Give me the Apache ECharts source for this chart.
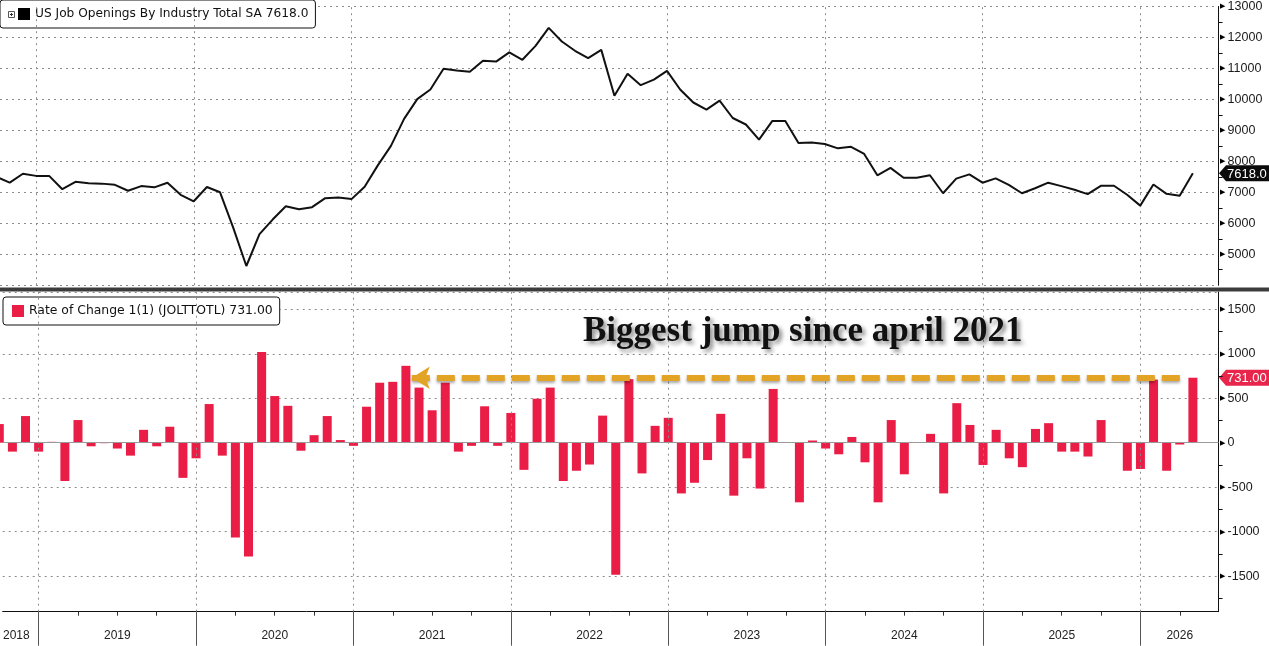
<!DOCTYPE html>
<html>
<head>
<meta charset="utf-8">
<script src="https://cdn.jsdelivr.net/npm/echarts@6/dist/echarts.min.js"></script>
<style>
  html, body { margin: 0; padding: 0; background: #fff; }
  #chart { width: 1269px; height: 646px; }
</style>
</head>
<body>
<div id="chart"></div>
<script>
// monthly points, plotted at the end of each month
var months = [
  '2018-09','2018-10','2018-11','2018-12',
  '2019-01','2019-02','2019-03','2019-04','2019-05','2019-06','2019-07','2019-08','2019-09','2019-10','2019-11','2019-12',
  '2020-01','2020-02','2020-03','2020-04','2020-05','2020-06','2020-07','2020-08','2020-09','2020-10','2020-11','2020-12',
  '2021-01','2021-02','2021-03','2021-04','2021-05','2021-06','2021-07','2021-08','2021-09','2021-10','2021-11','2021-12',
  '2022-01','2022-02','2022-03','2022-04','2022-05','2022-06','2022-07','2022-08','2022-09','2022-10','2022-11','2022-12',
  '2023-01','2023-02','2023-03','2023-04','2023-05','2023-06','2023-07','2023-08','2023-09','2023-10','2023-11','2023-12',
  '2024-01','2024-02','2024-03','2024-04','2024-05','2024-06','2024-07','2024-08','2024-09','2024-10','2024-11','2024-12',
  '2025-01','2025-02','2025-03','2025-04','2025-05','2025-06','2025-07','2025-08','2025-09','2025-10','2025-11','2025-12',
  '2026-01','2026-02','2026-03','2026-04'
];

// US job openings, thousands
var openings = [
  7500, 7310, 7600, 7530,
  7530, 7100, 7340, 7290, 7280, 7240, 7050, 7200, 7160, 7310, 6920, 6710,
  7170, 7000, 5860, 4620, 5650, 6120, 6550, 6450, 6520, 6810, 6830, 6780,
  7180, 7870, 8500, 9370, 10010, 10320, 10990, 10930, 10890, 11250, 11220, 11520,
  11280, 11730, 12310, 11870, 11570, 11330, 11600, 10120, 10830, 10460, 10640, 10920,
  10320, 9900, 9670, 9960, 9400, 9190, 8700, 9300, 9300, 8590, 8610, 8560,
  8420, 8470, 8240, 7550, 7790, 7470, 7470, 7550, 6970, 7440, 7580, 7310,
  7450, 7240, 6970, 7130, 7310, 7200, 7080, 6940, 7210, 7210, 6920, 6570,
  7250, 6950, 6887, 7618
];

// month over month change
var changes = [
  210, -100, 300, -100,
  10, -430, 255, -40, -5, -65, -145, 145, -40, 180, -395, -175,
  435, -145, -1065, -1280, 1020, 525, 415, -90, 85, 300, 30, -35,
  405, 675, 685, 865, 620, 365, 675, -100, -35, 410, -35, 335,
  -305, 495, 620, -430, -315, -245, 305, -1485, 715, -345, 190, 280,
  -570, -450, -195, 325, -595, -175, -515, 605, 0, -670, 25, -65,
  -130, 65, -220, -670, 255, -355, 5, 100, -570, 445, 200, -250,
  145, -175, -275, 155, 220, -100, -100, -155, 255, 0, -315, -295,
  710, -315, -20, 731
];

// x positions are months since Jan 2018
var yearLabels = ['2018', '2019', '2020', '2021', '2022', '2023', '2024', '2025', '2026'];
var yearLabelPos = [10.3, 18, 30, 42, 54, 66, 78, 90, 99];
var yearBounds = [12, 24, 36, 48, 60, 72, 84, 96];
var quarterTicks = [15, 18, 21, 27, 30, 33, 39, 42, 45, 51, 54, 57, 63, 66, 69, 75, 78, 81, 87, 90, 93, 99];
var xMin = 9.26, xMax = 101.96;

var openName = 'US Job Openings By Industry Total SA';
var chgName = 'Rate of Change 1(1) (JOLTTOTL)';
var arrowFrom = 40.45, arrowTo = 99.5;   // annotation arrow span

function monthValue(m) {
  var p = m.split('-');
  return (+p[0] - 2018) * 12 + (+p[1]);
}

var xs = months.map(monthValue);
var lineData = xs.map(function (v, i) { return [v, openings[i]]; });
var barData = xs.map(function (v, i) { return [v, changes[i]]; });
var lastOpen = openings[openings.length - 1];
var lastChg = changes[changes.length - 1];

var FONT = 'Liberation Sans';
var LFONT = 'DejaVu Sans';
var dotted = { color: '#8c8c8c', width: 1, type: [2, 4] };
var yearLines = yearBounds.map(function (v) { return { xAxis: v, lineStyle: dotted }; });

var chart = echarts.init(document.getElementById('chart'), null, { renderer: 'canvas' });

function yLabel(v, step) {
  if (v % step !== 0) return '';
  return '{a|\u25B6}{b|' + v + '}';
}
var yRich = {
  a: { fontSize: 7, color: '#000', padding: [0, 3, 0, 0] },
  b: { fontSize: 12.5, color: '#1a1a1a', fontFamily: FONT }
};

chart.setOption({
  animation: false,
  backgroundColor: '#fff',
  textStyle: { fontFamily: FONT },
  title: {
    text: 'Biggest jump since april 2021',
    left: 583, top: 314, padding: 0,
    textStyle: {
      fontFamily: 'Liberation Serif', fontWeight: 'bold', fontSize: 35, color: '#111',
      textShadowColor: 'rgba(0,0,0,0.45)', textShadowBlur: 4,
      textShadowOffsetX: 3, textShadowOffsetY: 3
    }
  },
  legend: [{
    data: [openName], left: 0, top: 0, icon: 'rect', itemWidth: 12, itemHeight: 12,
    padding: [8, 7, 8, 18], borderColor: '#111', borderWidth: 1, borderRadius: 3,
    backgroundColor: '#fff', selectedMode: false,
    textStyle: { fontFamily: LFONT, fontSize: 12.2, color: '#111' },
    formatter: function (n) { return n + ' ' + lastOpen.toFixed(1); }
  }, {
    data: [chgName], left: 3, top: 297, icon: 'rect', itemWidth: 12, itemHeight: 12,
    padding: [8, 7, 8, 9], borderColor: '#111', borderWidth: 1, borderRadius: 3,
    backgroundColor: '#fff', selectedMode: false,
    textStyle: { fontFamily: LFONT, fontSize: 12.4, color: '#111' },
    formatter: function (n) { return n + ' ' + lastChg.toFixed(2); }
  }],
  grid: [
    { left: 0, right: 50.4, top: 1.7, height: 283.5 },
    { left: 0, right: 50.4, top: 292, height: 319.7 }
  ],
  xAxis: [{
    gridIndex: 0, type: 'value', min: xMin, max: xMax,
    axisLine: { show: false }, axisTick: { show: false }, axisLabel: { show: false },
    splitLine: { show: false }
  }, {
    gridIndex: 1, type: 'value', min: xMin, max: xMax, position: 'bottom',
    axisLine: { show: true, onZero: false, lineStyle: { color: '#111', width: 1 } },
    axisTick: { show: true, customValues: yearBounds, length: 34, lineStyle: { color: '#555' } },
    axisLabel: {
      customValues: yearLabelPos, margin: 18, fontSize: 12, color: '#222',
      formatter: function (v) {
        var i = yearLabelPos.indexOf(v);
        return i >= 0 ? yearLabels[i] : '';
      }
    },
    splitLine: { show: false }
  }, {
    gridIndex: 1, type: 'value', min: xMin, max: xMax, position: 'bottom', offset: 0,
    axisLine: { show: false, onZero: false },
    axisTick: { show: true, customValues: quarterTicks, length: 4, lineStyle: { color: '#333' } },
    axisLabel: { show: false },
    splitLine: { show: false }
  }],
  yAxis: [{
    gridIndex: 0, type: 'value', position: 'right', min: 4000, max: 13000, interval: 1000,
    axisLine: { show: true, lineStyle: { color: '#111' } },
    axisTick: { show: false },
    minorTick: { show: true, splitNumber: 2, length: 4, lineStyle: { color: '#111' } },
    axisLabel: { margin: 1, formatter: function (v) { return v === 4000 ? '' : yLabel(v, 1000); }, rich: yRich },
    splitLine: { show: true, lineStyle: dotted }
  }, {
    gridIndex: 1, type: 'value', position: 'right', min: -1900, max: 1695, splitNumber: 7,
    axisLine: { show: true, lineStyle: { color: '#111' } },
    axisTick: { show: false },
    minorTick: { show: true, splitNumber: 2, length: 4, lineStyle: { color: '#111' } },
    axisLabel: { margin: 1, formatter: function (v) { return yLabel(v, 500); }, rich: yRich },
    splitLine: { show: true, lineStyle: dotted }
  }],
  series: [{
    name: openName, type: 'line', xAxisIndex: 0, yAxisIndex: 0,
    data: lineData, showSymbol: false, clip: true, color: '#000',
    lineStyle: { color: '#111', width: 2 }, z: 5,
    markLine: { silent: true, symbol: 'none', label: { show: false }, data: yearLines }
  }, {
    name: chgName, type: 'bar', xAxisIndex: 1, yAxisIndex: 1,
    data: barData, barWidth: 9, color: '#E8254B',
    itemStyle: { color: '#EA1D46' },
    markLine: {
      silent: true, symbol: 'none', label: { show: false },
      data: yearLines.concat([
        { yAxis: 0, lineStyle: { type: 'solid', color: '#9a9a9a', width: 1 } },
        [
          { coord: [arrowFrom, lastChg], symbol: 'arrow', symbolSize: [17, 18],
            lineStyle: { color: '#E3A324', width: 6, type: [18, 7],
              shadowColor: 'rgba(0,0,0,0.35)', shadowBlur: 3, shadowOffsetY: 2 } },
          { coord: [arrowTo, lastChg], symbol: 'none',
            lineStyle: { color: '#E3A324', width: 6, type: [18, 7],
              shadowColor: 'rgba(0,0,0,0.35)', shadowBlur: 3, shadowOffsetY: 2 } }
        ]
      ])
    }
  }]
});

// value tags on the right axis and other furniture
function tag(y, text, color) {
  return {
    type: 'group',
    children: [{
      type: 'polygon',
      shape: { points: [[1219, y], [1226, y - 8], [1269, y - 8], [1269, y + 8], [1226, y + 8]] },
      style: { fill: color }
    }, {
      type: 'text',
      style: { x: 1227, y: y + 1, text: text, fill: '#fff', font: '13px "Liberation Sans"', verticalAlign: 'middle' }
    }]
  };
}

var yOpen = chart.convertToPixel({ yAxisIndex: 0 }, lastOpen);
var yChg = chart.convertToPixel({ yAxisIndex: 1 }, lastChg);

chart.setOption({
  graphic: [
    { type: 'rect', shape: { x: 0, y: 287.5, width: 1269, height: 4 }, style: { fill: '#3c3c3c' }, z: 50 },
    {
      type: 'group', z: 100,
      children: [
        { type: 'rect', shape: { x: 8.5, y: 11.5, width: 6, height: 6 }, style: { fill: '#fff', stroke: '#555', lineWidth: 1 }, z: 100 },
        { type: 'line', shape: { x1: 10, y1: 14.5, x2: 13, y2: 14.5 }, style: { stroke: '#333', lineWidth: 1 }, z: 101 },
        { type: 'line', shape: { x1: 11.5, y1: 13, x2: 11.5, y2: 16 }, style: { stroke: '#333', lineWidth: 1 }, z: 101 }
      ]
    },
    tag(yOpen, lastOpen.toFixed(1), '#0b0b0b'),
    tag(yChg, lastChg.toFixed(2), '#E8254B')
  ]
});
</script>
</body>
</html>
